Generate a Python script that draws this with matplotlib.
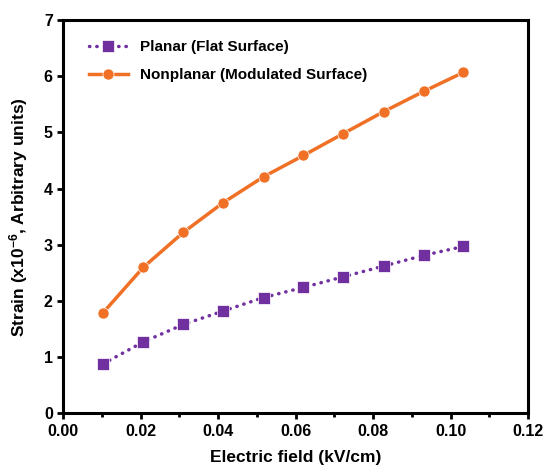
import matplotlib
matplotlib.use("Agg")
import matplotlib.pyplot as plt
from matplotlib.ticker import MultipleLocator

plt.rcParams['font.family'] = ['Liberation Sans', 'DejaVu Sans']
plt.rcParams['font.weight'] = 'bold'
plt.rcParams['mathtext.fontset'] = 'custom'
plt.rcParams['mathtext.rm'] = 'Liberation Sans:bold'
plt.rcParams['mathtext.default'] = 'rm'

# data
field = [0.0103, 0.0207, 0.031, 0.0413, 0.0517, 0.062, 0.0723, 0.0827, 0.093, 0.1033]
planar = [0.88, 1.27, 1.58, 1.82, 2.06, 2.24, 2.43, 2.62, 2.81, 2.97]
nonplanar = [1.79, 2.60, 3.22, 3.75, 4.21, 4.59, 4.98, 5.37, 5.73, 6.07]

fig = plt.figure(figsize=(5.45, 4.69), dpi=100)
ax = fig.add_axes([0.116, 0.119, 0.853, 0.838])

ax.plot(field, planar, linestyle=(0, (0.1, 2.0)), dash_capstyle='round',
        color='#7030A0', linewidth=2.5,
        marker='s', markersize=8, markeredgecolor='white', markeredgewidth=0.5,
        label='Planar (Flat Surface)')
ax.plot(field, nonplanar, linestyle='-', color='#F07025', linewidth=2.5,
        marker='o', markersize=8, markeredgecolor='white', markeredgewidth=0.5,
        label='Nonplanar (Modulated Surface)')

ax.set_xlim(0, 0.12)
ax.set_ylim(0, 7)
ax.xaxis.set_major_locator(MultipleLocator(0.02))
ax.xaxis.set_minor_locator(MultipleLocator(0.01))
ax.yaxis.set_major_locator(MultipleLocator(1))
ax.xaxis.set_major_formatter(plt.FuncFormatter(lambda v, p: f"{v:.2f}"))

for s in ax.spines.values():
    s.set_linewidth(2.2)
ax.tick_params(axis='both', which='major', direction='out', length=4, width=2, labelsize=11.5)
ax.tick_params(axis='x', which='minor', direction='out', length=3, width=2)

ax.set_xlabel('Electric field (kV/cm)', fontsize=12.5, fontweight='bold', labelpad=8)
ax.set_ylabel('Strain (x10$^{-6}$, Arbitrary units)', fontsize=12.5, fontweight='bold', labelpad=10)

ax.legend(loc='upper left', frameon=False, fontsize=11, handlelength=2.6,
          borderaxespad=0.8, labelspacing=0.9, bbox_to_anchor=(0.015, 0.995))

fig.savefig('out.png', dpi=100)
